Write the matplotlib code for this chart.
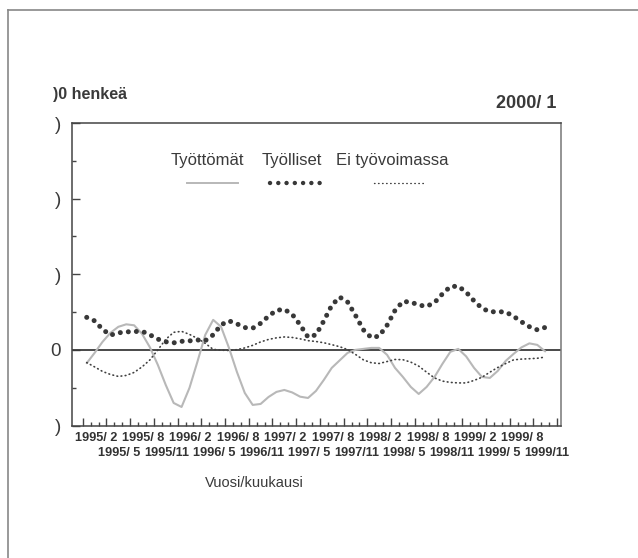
import numpy as np
import matplotlib
matplotlib.use("Agg")
import matplotlib.pyplot as plt
from matplotlib import font_manager as fm
from matplotlib.lines import Line2D
import matplotlib.transforms as mtransforms

# ---------------- data ----------------
tick_labels = ["1995/ 2", "1995/ 5", "1995/ 8", "1995/11",
               "1996/ 2", "1996/ 5", "1996/ 8", "1996/11",
               "1997/ 2", "1997/ 5", "1997/ 8", "1997/11",
               "1998/ 2", "1998/ 5", "1998/ 8", "1998/11",
               "1999/ 2", "1999/ 5", "1999/ 8", "1999/11"]

# monthly values, 1995/2 ... 1999/12
tyottomat = [-1.76, -0.40, 1.06, 2.25, 3.05, 3.38, 3.25, 2.12, 0.33, -1.99,
             -4.64, -7.02, -7.55, -5.03, -1.59, 1.99, 3.97, 3.05, 0.26, -2.91,
             -5.70, -7.28, -7.15, -6.23, -5.56, -5.30, -5.63, -6.19, -6.36, -5.43,
             -3.97, -2.38, -1.39, -0.40, 0.00, 0.13, 0.26, 0.26, -0.66, -2.38,
             -3.58, -4.90, -5.83, -4.90, -3.58, -1.85, -0.26, 0.13, -0.86, -2.38,
             -3.58, -3.71, -2.78, -1.46, -0.53, 0.33, 0.86, 0.66, -0.20]

tyolliset = [4.30, 3.84, 2.72, 1.95, 2.25, 2.38, 2.42, 2.46, 1.99, 1.42,
             1.07, 0.93, 1.13, 1.19, 1.31, 1.22, 1.99, 3.31, 3.84, 3.44,
             2.95, 2.87, 3.51, 4.46, 5.23, 5.36, 4.70, 3.31, 1.68, 1.99,
             3.84, 5.89, 6.98, 6.34, 4.57, 2.65, 1.62, 1.83, 3.26, 5.21,
             6.40, 6.32, 5.93, 5.75, 6.25, 7.40, 8.37, 8.42, 7.64, 6.48,
             5.51, 5.03, 5.05, 5.01, 4.44, 3.71, 3.07, 2.65, 2.97]

ei_tyovoimassa = [-1.68, -2.25, -2.85, -3.25, -3.51, -3.38, -2.98, -2.25, -1.32, 0.00,
                  1.39, 2.32, 2.45, 2.05, 1.52, 0.86, 0.07, -0.04, -0.08, 0.03,
                  0.26, 0.60, 1.05, 1.38, 1.59, 1.71, 1.64, 1.46, 1.22, 1.11,
                  0.94, 0.69, 0.42, 0.04, -0.60, -1.32, -1.70, -1.80, -1.54, -1.27,
                  -1.30, -1.62, -2.15, -2.95, -3.71, -4.13, -4.30, -4.37, -4.37, -4.04,
                  -3.62, -2.95, -2.33, -1.81, -1.32, -1.22, -1.17, -1.11, -0.95]

series_names = ["Työttömät", "Työlliset", "Ei työvoimassa"]
ytick_values = [-10, 0, 10, 20, 30]
ytick_text = [")", "0", ")", ")", ")"]

# ---------------- fonts ----------------
def has_font(name):
    try:
        fm.findfont(fm.FontProperties(family=name), fallback_to_default=False)
        return True
    except Exception:
        return False

NARROW = "Liberation Sans Narrow" if has_font("Liberation Sans Narrow") else "Liberation Sans"
REG = "Liberation Sans" if has_font("Liberation Sans") else "DejaVu Sans"
TXT = "#3a3a3a"

W, H = 638, 558
fig = plt.figure(figsize=(W / 100, H / 100), dpi=100)
fig.patch.set_facecolor("white")

def fx(px):
    return px / W

def fy(py):
    return 1 - py / H

ax = fig.add_axes([fx(72), fy(425.5), fx(561) - fx(72), fy(123) - fy(425.5)])

x = np.arange(len(tyolliset))

# series
ax.plot(x, tyottomat, color="#b8b8b8", lw=1.5, solid_capstyle="round", zorder=3)
ax.plot(x, tyolliset, color="#383838", lw=3.6, linestyle=(0, (0.01, 1.6)),
        dash_capstyle="round", zorder=4)
ax.plot(x, ei_tyovoimassa, color="#404040", lw=1.2, linestyle=(0, (0.4, 2.1)),
        dash_capstyle="round", zorder=4)

ax.axhline(0, color="#3a3a3a", lw=1.3, zorder=2)

ax.set_xlim(-1.86, 60.0)
ax.set_ylim(-10, 30)

for s in ax.spines.values():
    s.set_color("#444444")
    s.set_linewidth(1.1)
ax.spines["right"].set_color("#777777")

# y ticks
ax.set_yticks(ytick_values)
ax.set_yticklabels(ytick_text)
ax.set_yticks([-5, 5, 15, 25], minor=True)
ax.tick_params(axis="y", which="major", direction="in", length=6, width=1.0,
               color="#444444", pad=8, labelsize=13.5, labelcolor=TXT)
ax.tick_params(axis="y", which="minor", direction="in", length=3, width=1.0,
               color="#444444")
for lab in ax.get_yticklabels():
    lab.set_fontfamily(REG)

# x ticks: month boundaries, major every 3 months
maj = np.arange(-0.5, 59.6, 3)
ax.set_xticks(maj)
lbls = list(tick_labels) + [""] * (len(maj) - len(tick_labels))
ax.set_xticklabels(lbls)
ax.set_xticks(np.arange(-0.5, 59.6, 1), minor=True)
ax.tick_params(axis="x", which="major", direction="in", length=6, width=1.0,
               color="#444444", pad=5, labelsize=9.2, labelcolor="#333333")
ax.tick_params(axis="x", which="minor", direction="in", length=3, width=1.0,
               color="#444444")
off_top = mtransforms.ScaledTranslation(13 / 100, 0, fig.dpi_scale_trans)
off_bot = mtransforms.ScaledTranslation(13 / 100, -15 / 100, fig.dpi_scale_trans)
for k, lab in enumerate(ax.get_xticklabels()):
    lab.set_fontfamily(REG)
    lab.set_fontweight("bold")
    lab.set_transform(lab.get_transform() + (off_top if k % 2 == 0 else off_bot))

# axis titles
fig.text(fx(254), fy(483), "Vuosi/kuukausi", ha="center", va="center",
         fontsize=10.5, family=NARROW, color=TXT)
fig.text(fx(53), fy(95), ")0 henkeä", ha="left", va="center",
         fontsize=11.5, family=NARROW, color=TXT, fontweight="bold")
fig.text(fx(556), fy(103), "2000/ 1", ha="right", va="center",
         fontsize=13, family=REG, color=TXT, fontweight="bold")

# legend (manual, labels above samples)
leg_text_x = [207, 292, 392]
leg_line = [(187, 238), (270, 322), (374, 425)]
styles = [dict(color="#b8b8b8", lw=1.4),
          dict(color="#383838", lw=3.2, linestyle=(0, (0.01, 1.85)), dash_capstyle="round"),
          dict(color="#404040", lw=1.0, linestyle=(0, (0.4, 2.5)), dash_capstyle="round")]
for name, tx, (x0, x1), st in zip(series_names, leg_text_x, leg_line, styles):
    fig.text(fx(tx), fy(160), name, ha="center", va="center", fontsize=12,
             family=NARROW, color=TXT)
    fig.add_artist(Line2D([fx(x0), fx(x1)], [fy(183), fy(183)],
                          transform=fig.transFigure, **st))

# outer frame (partially cropped scan)
fig.add_artist(Line2D([fx(8), fx(638)], [fy(10), fy(10)], transform=fig.transFigure,
                      color="#888888", lw=1.2))
fig.add_artist(Line2D([fx(8), fx(8)], [fy(10), fy(558)], transform=fig.transFigure,
                      color="#888888", lw=1.2))

fig.savefig("out.png", dpi=100, facecolor="white")
